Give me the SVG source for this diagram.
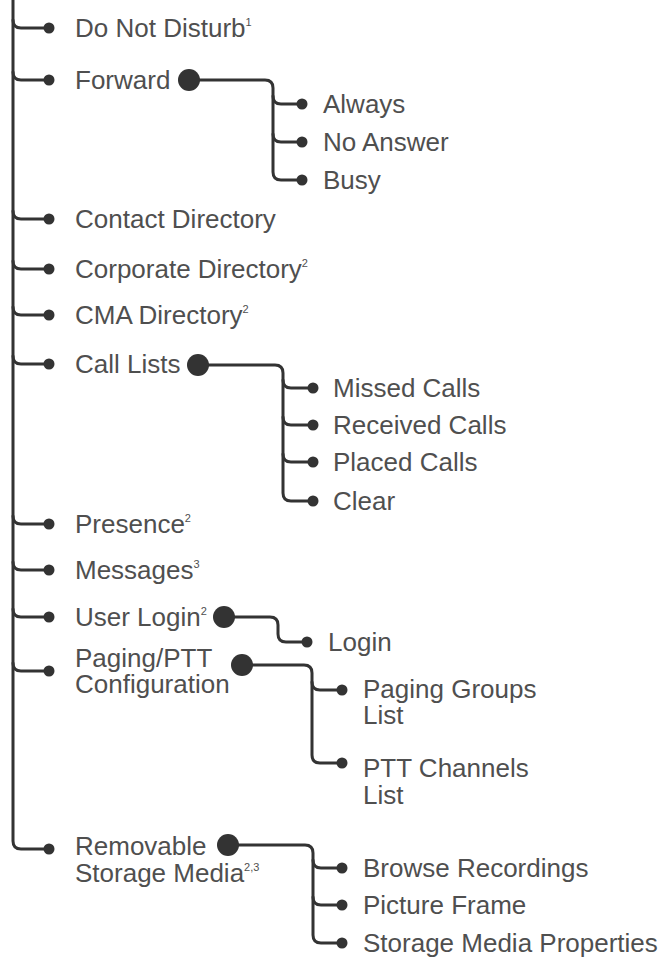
<svg xmlns="http://www.w3.org/2000/svg" width="661" height="959" viewBox="0 0 661 959">
<style>
.ln{fill:none;stroke:#333;stroke-width:3;stroke-linecap:round}
.d{fill:#333}
text{font-family:"Liberation Sans",Arial,sans-serif;font-size:26px;fill:#4f4f4f}
.sup{font-size:11px}
</style>
<rect width="661" height="959" fill="#fff"/>
<g id="connectors">
<path class="ln" d="M13,0 L13,841 Q13,849 21,849 L49,849"/>
<path class="ln" d="M13,20 Q13,28 21,28 L49,28"/>
<path class="ln" d="M13,72 Q13,80 21,80 L49,80"/>
<path class="ln" d="M13,211 Q13,219 21,219 L49,219"/>
<path class="ln" d="M13,261 Q13,269 21,269 L49,269"/>
<path class="ln" d="M13,307 Q13,315 21,315 L49,315"/>
<path class="ln" d="M13,356 Q13,364 21,364 L49,364"/>
<path class="ln" d="M13,516 Q13,524 21,524 L49,524"/>
<path class="ln" d="M13,562 Q13,570 21,570 L49,570"/>
<path class="ln" d="M13,609 Q13,617 21,617 L49,617"/>
<path class="ln" d="M13,663 Q13,671 21,671 L49,671"/>
<path class="ln" d="M189,80 L265,80 Q273,80 273,88 L273,172 Q273,180 281,180 L302,180"/>
<path class="ln" d="M273,96 Q273,104 281,104 L302,104"/>
<path class="ln" d="M273,134 Q273,142 281,142 L302,142"/>
<path class="ln" d="M198,365 L275,365 Q283,365 283,373 L283,493 Q283,501 291,501 L313,501"/>
<path class="ln" d="M283,380 Q283,388 291,388 L313,388"/>
<path class="ln" d="M283,417 Q283,425 291,425 L313,425"/>
<path class="ln" d="M283,454 Q283,462 291,462 L313,462"/>
<path class="ln" d="M224,617 L270,617 Q278,617 278,625 L278,634 Q278,642 286,642 L307,642"/>
<path class="ln" d="M242,665 L304,665 Q312,665 312,673 L312,755 Q312,763 320,763 L342,763"/>
<path class="ln" d="M312,682 Q312,690 320,690 L342,690"/>
<path class="ln" d="M228,845 L305,845 Q313,845 313,853 L313,935 Q313,943 321,943 L342,943"/>
<path class="ln" d="M313,860 Q313,868 321,868 L342,868"/>
<path class="ln" d="M313,897 Q313,905 321,905 L342,905"/>
</g>
<g id="n-dnd"><circle class="d" cx="49" cy="28" r="5.5"/><text x="75" y="37">Do Not Disturb<tspan class="sup" dy="-11">1</tspan></text></g>
<g id="n-forward"><circle class="d" cx="49" cy="80" r="5.5"/><text x="75" y="89">Forward</text><circle class="d" cx="189" cy="80" r="11"/></g>
<g id="n-always"><circle class="d" cx="302" cy="104" r="5.5"/><text x="323" y="113">Always</text></g>
<g id="n-noanswer"><circle class="d" cx="302" cy="142" r="5.5"/><text x="323" y="151">No Answer</text></g>
<g id="n-busy"><circle class="d" cx="302" cy="180" r="5.5"/><text x="323" y="189">Busy</text></g>
<g id="n-contact"><circle class="d" cx="49" cy="219" r="5.5"/><text x="75" y="228">Contact Directory</text></g>
<g id="n-corporate"><circle class="d" cx="49" cy="269" r="5.5"/><text x="75" y="278">Corporate Directory<tspan class="sup" dy="-11">2</tspan></text></g>
<g id="n-cma"><circle class="d" cx="49" cy="315" r="5.5"/><text x="75" y="324">CMA Directory<tspan class="sup" dy="-11">2</tspan></text></g>
<g id="n-calllists"><circle class="d" cx="49" cy="364" r="5.5"/><text x="75" y="373">Call Lists</text><circle class="d" cx="198" cy="365" r="11"/></g>
<g id="n-missed"><circle class="d" cx="313" cy="388" r="5.5"/><text x="333" y="397">Missed Calls</text></g>
<g id="n-received"><circle class="d" cx="313" cy="425" r="5.5"/><text x="333" y="434">Received Calls</text></g>
<g id="n-placed"><circle class="d" cx="313" cy="462" r="5.5"/><text x="333" y="471">Placed Calls</text></g>
<g id="n-clear"><circle class="d" cx="313" cy="501" r="5.5"/><text x="333" y="510">Clear</text></g>
<g id="n-presence"><circle class="d" cx="49" cy="524" r="5.5"/><text x="75" y="533">Presence<tspan class="sup" dy="-11">2</tspan></text></g>
<g id="n-messages"><circle class="d" cx="49" cy="570" r="5.5"/><text x="75" y="579">Messages<tspan class="sup" dy="-11">3</tspan></text></g>
<g id="n-userlogin"><circle class="d" cx="49" cy="617" r="5.5"/><text x="75" y="626">User Login<tspan class="sup" dy="-11">2</tspan></text><circle class="d" cx="224" cy="617" r="11"/></g>
<g id="n-login"><circle class="d" cx="307" cy="642" r="5.5"/><text x="328" y="651">Login</text></g>
<g id="n-paging"><circle class="d" cx="49" cy="671" r="5.5"/><text x="75" y="667">Paging/PTT<tspan x="75" dy="26">Configuration</tspan></text><circle class="d" cx="242" cy="665" r="11"/></g>
<g id="n-paginggroups"><circle class="d" cx="342" cy="690" r="5.5"/><text x="363" y="698">Paging Groups<tspan x="363" dy="26">List</tspan></text></g>
<g id="n-pttchannels"><circle class="d" cx="342" cy="763" r="5.5"/><text x="363" y="777">PTT Channels<tspan x="363" dy="27">List</tspan></text></g>
<g id="n-removable"><circle class="d" cx="49" cy="849" r="5.5"/><text x="75" y="855">Removable<tspan x="75" dy="27">Storage Media</tspan><tspan class="sup" dy="-11">2,3</tspan></text><circle class="d" cx="228" cy="845" r="11"/></g>
<g id="n-browse"><circle class="d" cx="342" cy="868" r="5.5"/><text x="363" y="877">Browse Recordings</text></g>
<g id="n-picture"><circle class="d" cx="342" cy="905" r="5.5"/><text x="363" y="914">Picture Frame</text></g>
<g id="n-props"><circle class="d" cx="342" cy="943" r="5.5"/><text x="363" y="952">Storage Media Properties</text></g>
</svg>
